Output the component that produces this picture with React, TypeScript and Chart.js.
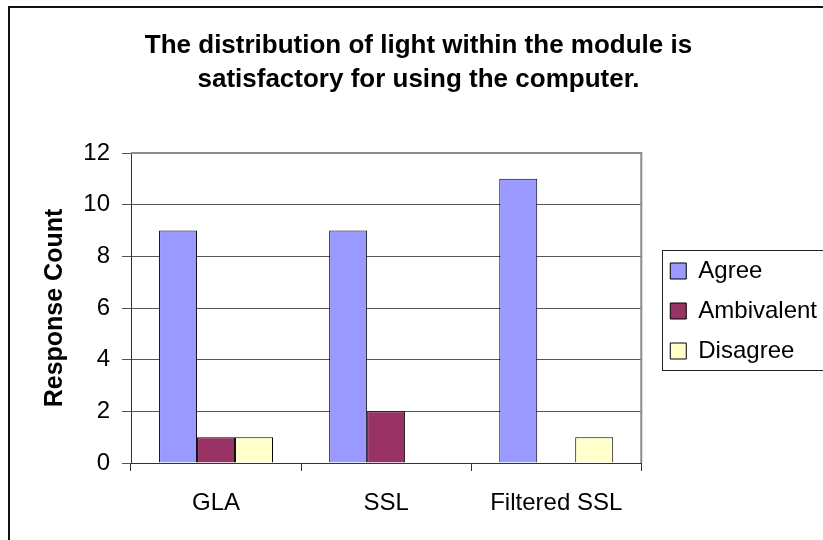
import React, { useEffect, useRef } from 'react';
import { Chart, registerables } from 'chart.js';

Chart.register(...registerables);

const categories = ['GLA', 'SSL', 'Filtered SSL'];
const seriesNames = ['Agree', 'Ambivalent', 'Disagree'];
const agree = [9, 9, 11];
const ambivalent = [1, 2, 0];
const disagree = [1, 0, 1];
const yTicks = [0, 2, 4, 6, 8, 10, 12];
const titleLines = [
  'The distribution of light within the module is',
  'satisfactory for using the computer.',
];
const yAxisTitle = 'Response Count';
const seriesColors = ['#9999FF', '#993366', '#FFFFCC'];

const FONT = 'Arial, "Liberation Sans", sans-serif';

const framePlugin = {
  id: 'frame',
  beforeDatasetsDraw(chart: any) {
    const { ctx, chartArea: a } = chart;
    ctx.save();
    ctx.strokeStyle = '#8c8c8c';
    ctx.lineWidth = 2;
    ctx.beginPath();
    ctx.moveTo(a.left, a.top);
    ctx.lineTo(a.right, a.top);
    ctx.lineTo(a.right, a.bottom);
    ctx.stroke();
    ctx.restore();
  },
  afterDraw(chart: any) {
    const lg = chart.legend;
    if (!lg || !lg.legendHitBoxes || !lg.legendHitBoxes.length) return;
    const hb = lg.legendHitBoxes;
    const first = hb[0];
    const last = hb[hb.length - 1];
    const x = Math.round(first.left - 8) + 0.5;
    const y = Math.round(first.top - 9) + 0.5;
    const bottom = Math.round(last.top + last.height + 7) + 0.5;
    const { ctx } = chart;
    ctx.save();
    ctx.strokeStyle = '#222';
    ctx.lineWidth = 1;
    ctx.strokeRect(x, y, chart.width + 20 - x, bottom - y);
    ctx.restore();
  },
};

export default function App() {
  const ref = useRef<HTMLCanvasElement | null>(null);

  useEffect(() => {
    if (!ref.current) return;
    const values = [agree, ambivalent, disagree];
    const chart = new Chart(ref.current, {
      type: 'bar',
      data: {
        labels: categories,
        datasets: seriesNames.map((name, i) => ({
          label: name,
          data: values[i],
          backgroundColor: seriesColors[i],
          borderColor: '#000',
          borderWidth: 1,
          categoryPercentage: 0.67,
          barPercentage: 1,
        })),
      },
      options: {
        animation: false,
        responsive: false,
        devicePixelRatio: 1,
        layout: { padding: { left: 10, right: 0, top: 0, bottom: 22 } },
        plugins: {
          title: {
            display: true,
            text: titleLines,
            color: '#000',
            font: { family: FONT, size: 26, weight: 'bold', lineHeight: '34px' },
            padding: { top: 29, bottom: 56 },
          },
          legend: {
            position: 'right',
            fullSize: false,
            align: 'center',
            maxWidth: 300,
            title: {
              display: true,
              text: '',
              padding: 3,
              font: { family: FONT, size: 1, lineHeight: 0 },
            },
            labels: {
              color: '#000',
              font: { family: FONT, size: 24 },
              boxWidth: 16,
              boxHeight: 16,
              padding: 16,
            },
          },
          tooltip: { enabled: false },
        },
        scales: {
          x: {
            grid: {
              drawOnChartArea: false,
              drawTicks: true,
              tickLength: 8,
              color: '#333',
              offset: true,
            },
            border: { color: '#333' },
            ticks: { color: '#000', font: { family: FONT, size: 24 }, padding: 18, maxRotation: 0 },
            afterFit: (s: any) => { s.height = 55; },
          },
          y: {
            min: 0,
            max: 12,
            grid: { color: '#555', tickLength: 9 },
            border: { color: '#333' },
            ticks: { color: '#000', font: { family: FONT, size: 24 }, padding: 12, stepSize: 2 },
            afterBuildTicks: (s: any) => { s.ticks = yTicks.map((v) => ({ value: v })); },
            title: {
              display: true,
              text: yAxisTitle,
              color: '#000',
              font: { family: FONT, size: 25, weight: 'bold' },
              padding: { top: 30, bottom: 0 },
            },
            afterFit: (s: any) => { s.width = 121; },
          },
          gap: {
            type: 'linear',
            position: 'right',
            display: true,
            grid: { display: false, drawTicks: false },
            border: { display: false },
            ticks: { display: false },
            afterFit: (s: any) => { s.width = 13; },
          },
        },
      },
      plugins: [framePlugin],
    } as any);
    return () => chart.destroy();
  }, []);

  return (
    <div style={{ position: 'absolute', left: 0, top: 0, width: 823, height: 540, overflow: 'hidden', background: '#fff' }}>
      <canvas ref={ref} width={827} height={540} style={{ display: 'block', width: 827, height: 540 }} />
      <div
        style={{
          position: 'absolute',
          left: 8,
          top: 6,
          width: 900,
          height: 600,
          borderLeft: '2px solid #111',
          borderTop: '2px solid #111',
          pointerEvents: 'none',
        }}
      />
    </div>
  );
}
